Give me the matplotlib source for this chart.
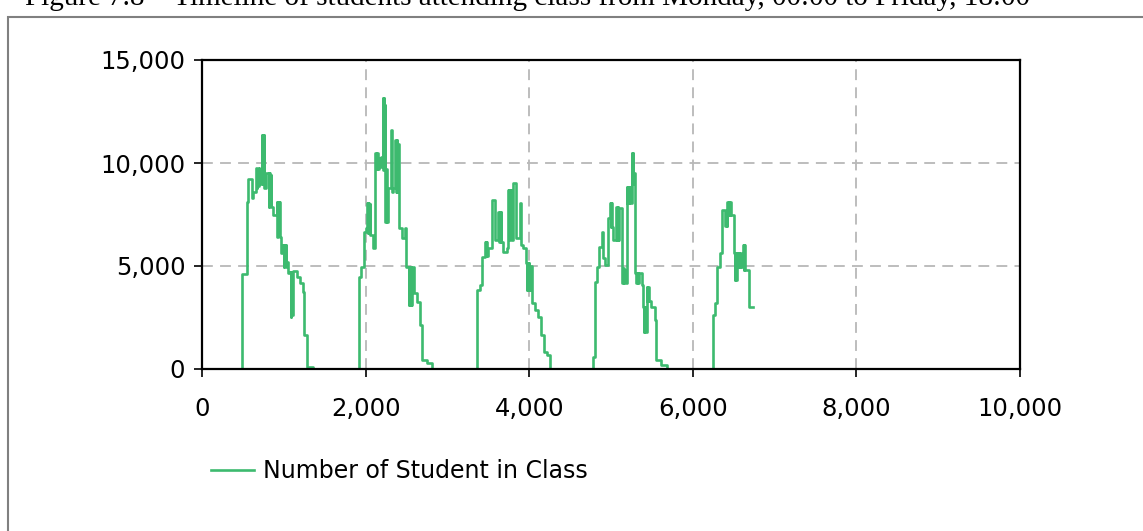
import matplotlib.pyplot as plt
from matplotlib.ticker import FuncFormatter
from matplotlib.patches import Rectangle

# minutes since Monday 00:00 and number of students in class
mon_t = [0, 485, 546, 566, 607, 620, 660, 668, 676, 684, 692, 700, 730, 736, 742, 748, 754,
         760, 770, 785, 807, 815, 823, 831, 839, 847, 868, 912, 920, 928, 936, 944, 953, 962,
         990, 998, 1006, 1014, 1022, 1030, 1040, 1055, 1075, 1083, 1091, 1100, 1112, 1157,
         1198, 1230, 1247, 1287, 1360]
mon_n = [0, 4610, 8120, 9210, 8300, 8610, 9760, 8790, 9700, 8900, 9760, 9000, 11360, 9100,
         11200, 9000, 11360, 8800, 8790, 9500, 9510, 7880, 9500, 7900, 9400, 7880, 7475, 8120,
         6420, 8100, 6500, 8120, 6420, 5630, 6020, 4970, 6000, 5000, 6020, 4970, 5200, 4660,
         4700, 2540, 4700, 2600, 4760, 4480, 4170, 3750, 1650, 110, 0]

tue_t = [1915, 1947, 1976, 2004, 2016, 2024, 2032, 2040, 2048, 2057, 2086, 2110, 2125, 2139,
         2150, 2160, 2175, 2190, 2208, 2214, 2220, 2226, 2232, 2240, 2250, 2260, 2273, 2314,
         2322, 2330, 2362, 2370, 2378, 2386, 2395, 2403, 2444, 2485, 2493, 2526, 2534, 2542,
         2550, 2560, 2570, 2587, 2627, 2668, 2688, 2750, 2811]
tue_n = [4480, 4970, 6660, 6830, 8060, 6590, 8060, 6600, 8000, 6500, 5860, 10470, 9700, 10470,
         9700, 10260, 9800, 10300, 13140, 9660, 13140, 9700, 12800, 7150, 9700, 7150, 8770,
         11600, 8600, 8770, 11120, 8600, 11120, 8600, 10900, 6830, 6340, 6830, 4970, 3100,
         4970, 3100, 4970, 3100, 4970, 3670, 3270, 2140, 440, 290, 0]

wed_t = [3364, 3397, 3425, 3458, 3466, 3474, 3482, 3499, 3540, 3581, 3621, 3629, 3637, 3645,
         3653, 3661, 3675, 3723, 3740, 3748, 3756, 3764, 3772, 3780, 3800, 3837, 3886, 3900,
         3927, 3960, 3968, 3976, 3984, 3992, 4000, 4010, 4030, 4070, 4110, 4140, 4180, 4220,
         4260]
wed_n = [3830, 4080, 5450, 6180, 5500, 6180, 5500, 5860, 8200, 6260, 7640, 6180, 7640, 6200,
         7600, 6180, 5690, 5860, 8690, 6260, 8690, 6300, 8690, 6260, 9010, 6340, 8040, 6020,
         5860, 5140, 3830, 5140, 3830, 5140, 3830, 5000, 3190, 2860, 2540, 1650, 840, 680, 0]

thu_t = [4782, 4803, 4823, 4855, 4884, 4900, 4925, 4965, 4986, 4994, 5002, 5010, 5026, 5067,
         5075, 5083, 5091, 5100, 5129, 5137, 5145, 5153, 5165, 5180, 5190, 5198, 5206, 5214,
         5222, 5230, 5251, 5259, 5267, 5275, 5291, 5305, 5315, 5328, 5340, 5373, 5393, 5401,
         5409, 5417, 5434, 5442, 5450, 5460, 5495, 5536, 5556, 5617, 5679]
thu_n = [600, 4240, 4970, 5940, 6660, 5400, 5050, 7310, 8040, 6900, 8040, 6900, 6260, 7880,
         6260, 7880, 6260, 7800, 4890, 4190, 4890, 4190, 4800, 4190, 8850, 8060, 8850, 8060,
         8850, 8060, 10470, 9000, 10470, 9500, 4640, 4190, 4640, 4190, 4640, 4080, 3020, 1810,
         3020, 1810, 4000, 3300, 4000, 3300, 3020, 2380, 440, 190, 0]

fri_t = [6248, 6269, 6301, 6330, 6359, 6391, 6399, 6407, 6415, 6424, 6432, 6440, 6448, 6456,
         6464, 6473, 6505, 6513, 6521, 6529, 6537, 6554, 6562, 6570, 6578, 6586, 6603, 6615,
         6623, 6631, 6639, 6656, 6688, 6737]
fri_n = [2620, 3190, 4970, 5610, 7720, 7470, 6960, 7470, 6960, 8120, 7470, 8120, 7470, 8120,
         7470, 7470, 5610, 4320, 5610, 4320, 5610, 4970, 5610, 4970, 5610, 4970, 4970, 6020,
         4810, 6020, 4810, 4810, 3030, 3030]

x_ticks = [0, 2000, 4000, 6000, 8000, 10000]
y_ticks = [0, 5000, 10000, 15000]

t = mon_t + tue_t + wed_t + thu_t + fri_t
n = mon_n + tue_n + wed_n + thu_n + fri_n

green = '#3dba6f'

fig = plt.figure(figsize=(11.43, 5.31), dpi=100)
ax = fig.add_axes([202 / 1143, 1 - 369 / 531, (1020 - 202) / 1143, (369 - 60) / 531])

ax.plot(t, n, drawstyle='steps-post', color=green, lw=1.9,
        label='Number of Student in Class', zorder=3)

ax.set_xlim(0, 10000)
ax.set_ylim(0, 15000)
ax.set_xticks(x_ticks)
ax.set_yticks(y_ticks)
fmt = FuncFormatter(lambda v, p: f'{v:,.0f}')
ax.xaxis.set_major_formatter(fmt)
ax.yaxis.set_major_formatter(fmt)
ax.tick_params(axis='both', labelsize=17.5, color='black', width=1.2, length=6)
ax.tick_params(axis='x', pad=14)
ax.tick_params(axis='y', pad=6)
ax.grid(True, color='#b8b8b8', linestyle=(0, (6, 4)), linewidth=1.3)
for s in ax.spines.values():
    s.set_linewidth(1.6)
    s.set_color('black')
    s.set_zorder(4)

ax.legend(loc='upper left', bbox_to_anchor=(0.0, -0.26), frameon=False, fontsize=17,
          handlelength=1.8, handletextpad=0.4, borderaxespad=0)

# outer border of the figure panel
fig.patches.append(Rectangle((8 / 1143, -0.1), 1.1, 1 - 17 / 531 + 0.1,
                             transform=fig.transFigure, fill=False,
                             edgecolor='#808080', lw=1.5))
# caption of the figure, cut off at the top edge
fig.text(25 / 1143, 1 - 5 / 531,
         'Figure 7.8 \u2013 Timeline of students attending class from Monday, 00:00 to Friday, 18:00',
         fontsize=21, family='Liberation Serif', va='baseline', ha='left')

fig.savefig('out.png', dpi=100)
